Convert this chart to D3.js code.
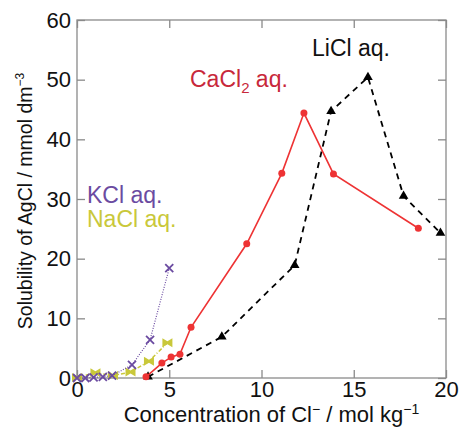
<!DOCTYPE html>
<html>
<head>
<meta charset="utf-8">
<script src="https://cdn.jsdelivr.net/npm/d3@7"></script>
<style>
  body { margin: 0; background: #fff; }
  text { font-family: "Liberation Sans", Arial, sans-serif; }
</style>
</head>
<body>
<svg id="chart" width="463" height="443"></svg>
<script>
// data: [Cl- conc mol/kg, AgCl solubility mmol/dm3]
var licl = [[3.85, 0.2], [7.85, 6.9], [11.8, 18.9], [13.77, 44.7], [15.77, 50.4], [17.7, 30.5], [19.7, 24.3]];
var cacl2 = [[3.74, 0.2], [4.6, 2.5], [5.1, 3.5], [5.58, 4.0], [6.18, 8.5], [9.2, 22.5], [11.1, 34.3], [12.3, 44.4], [13.9, 34.2], [18.5, 25.1]];
var kcl = [[0, 0], [0.45, 0], [0.9, 0.1], [1.4, 0.2], [1.9, 0.4], [2.98, 2.2], [3.96, 6.4], [5.0, 18.4]];
var nacl = [[0, 0.1], [1.0, 0.9], [1.95, 0.4], [2.9, 1.0], [3.9, 2.8], [4.9, 5.9]];
var xTicks = [0, 5, 10, 15, 20];
var yTicks = [0, 10, 20, 30, 40, 50, 60];

var svg = d3.select("#chart");
var plotLeft = 77, plotRight = 446, plotTop = 20, plotBottom = 378;

var x = d3.scaleLinear().domain([0, 20]).range([plotLeft, plotRight]);
var y = d3.scaleLinear().domain([0, 60]).range([plotBottom, plotTop]);

var frameColor = "#8a8a8a";

// frame with inward ticks on every side
svg.append("rect")
    .attr("x", plotLeft).attr("y", plotTop)
    .attr("width", plotRight - plotLeft).attr("height", plotBottom - plotTop)
    .attr("fill", "none").attr("stroke", frameColor).attr("stroke-width", 1.3);

var axB = svg.append("g").attr("transform", "translate(0," + plotBottom + ")")
    .call(d3.axisBottom(x).tickValues(xTicks).tickSizeInner(-8).tickSizeOuter(0).tickPadding(4));
var axT = svg.append("g").attr("transform", "translate(0," + plotTop + ")")
    .call(d3.axisTop(x).tickValues(xTicks).tickSizeInner(-8).tickSizeOuter(0).tickFormat(""));
var axL = svg.append("g").attr("transform", "translate(" + plotLeft + ",0)")
    .call(d3.axisLeft(y).tickValues(yTicks).tickSizeInner(-8).tickSizeOuter(0).tickPadding(6));
var axR = svg.append("g").attr("transform", "translate(" + plotRight + ",0)")
    .call(d3.axisRight(y).tickValues(yTicks).tickSizeInner(-8).tickSizeOuter(0).tickFormat(""));

[axB, axT, axL, axR].forEach(function (ax) {
    ax.select(".domain").remove();
    ax.selectAll(".tick line").attr("stroke", frameColor).attr("stroke-width", 1.3);
    ax.selectAll(".tick text").attr("fill", "#111").style("font-size", "22px");
});
axB.selectAll(".tick text").attr("dy", "0.7em");

var line = d3.line().x(function (d) { return x(d[0]); }).y(function (d) { return y(d[1]); });

// LiCl
svg.append("path").datum(licl).attr("d", line)
    .attr("fill", "none").attr("stroke", "#000").attr("stroke-width", 1.8).attr("stroke-dasharray", "6,5");
svg.selectAll(".licl").data(licl).enter().append("path")
    .attr("transform", function (d) { return "translate(" + x(d[0]) + "," + y(d[1]) + ")"; })
    .attr("d", d3.symbol().type(d3.symbolTriangle).size(40))
    .attr("fill", "#000");

// CaCl2
var red = "#ee3334";
svg.append("path").datum(cacl2).attr("d", line)
    .attr("fill", "none").attr("stroke", red).attr("stroke-width", 1.6);
svg.selectAll(".cacl2").data(cacl2).enter().append("circle")
    .attr("cx", function (d) { return x(d[0]); }).attr("cy", function (d) { return y(d[1]); })
    .attr("r", 3.5).attr("fill", red);

// NaCl
var yellow = "#c9c83a";
svg.append("path").datum(nacl).attr("d", line)
    .attr("fill", "none").attr("stroke", yellow).attr("stroke-width", 1.5).attr("stroke-dasharray", "4,2,1,2");
svg.selectAll(".nacl").data(nacl).enter().append("path")
    .attr("transform", function (d) { return "translate(" + x(d[0]) + "," + y(d[1]) + ")"; })
    .attr("d", "M-5,-4.5L0,-1.5L5,-4.5L5,4.5L0,1.5L-5,4.5Z")
    .attr("fill", yellow);

// KCl
var purple = "#6b4ba1";
svg.append("path").datum(kcl).attr("d", line)
    .attr("fill", "none").attr("stroke", purple).attr("stroke-width", 1.2).attr("stroke-dasharray", "1,1.5");
svg.selectAll(".kcl").data(kcl).enter().append("path")
    .attr("transform", function (d) { return "translate(" + x(d[0]) + "," + y(d[1]) + ")"; })
    .attr("d", "M-4,-4L4,4M-4,4L4,-4")
    .attr("stroke", purple).attr("stroke-width", 1.8).attr("fill", "none");

// series labels
svg.append("text").attr("x", 312).attr("y", 56).style("font-size", "23px").attr("fill", "#111").text("LiCl aq.");
var ca = svg.append("text").attr("x", 190).attr("y", 87).style("font-size", "23px").attr("fill", "#c8283a");
ca.append("tspan").text("CaCl");
ca.append("tspan").attr("dy", 6).style("font-size", "15px").text("2");
ca.append("tspan").attr("dy", -6).text(" aq.");
svg.append("text").attr("x", 87).attr("y", 203).style("font-size", "23px").attr("fill", purple).text("KCl aq.");
svg.append("text").attr("x", 87).attr("y", 227).style("font-size", "23px").attr("fill", yellow).text("NaCl aq.");

// axis titles
var xt = svg.append("text").attr("x", (plotLeft + plotRight) / 2 + 10).attr("y", 422)
    .attr("text-anchor", "middle").style("font-size", "22px").attr("fill", "#111");
xt.append("tspan").text("Concentration of Cl");
xt.append("tspan").attr("dy", -8).style("font-size", "14px").text("\u2212");
xt.append("tspan").attr("dy", 8).text(" / mol kg");
xt.append("tspan").attr("dy", -8).style("font-size", "14px").text("\u22121");

var yt = svg.append("text").attr("transform", "translate(32," + ((plotTop + plotBottom) / 2 + 2) + ") rotate(-90)")
    .attr("text-anchor", "middle").style("font-size", "19.5px").attr("fill", "#111");
yt.append("tspan").text("Solubility of AgCl / mmol dm");
yt.append("tspan").attr("dy", -8).style("font-size", "12px").text("\u22123");
</script>
</body>
</html>
